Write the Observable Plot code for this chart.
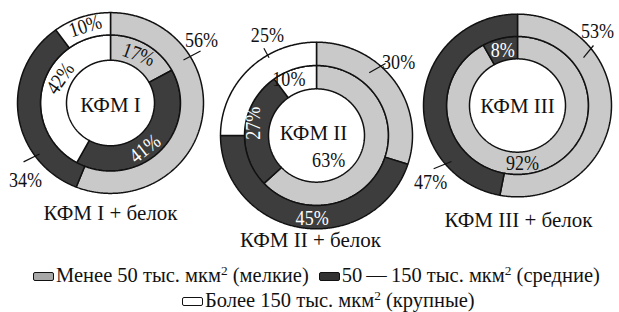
<!DOCTYPE html>
<html><head><meta charset="utf-8">
<script src="https://cdn.jsdelivr.net/npm/d3@7"></script>
<script src="https://cdn.jsdelivr.net/npm/@observablehq/plot@0.6"></script>
<style>
body{margin:0;background:#fff;font-family:"Liberation Serif","Times New Roman","DejaVu Serif",serif;}
#chart{width:619px;height:312px;position:relative;overflow:hidden;background:#fff}
#chart svg{position:absolute;left:0;top:0}
.row{position:absolute;font-family:"Liberation Serif","Times New Roman","DejaVu Serif",serif;font-size:20.5px;line-height:25px;white-space:nowrap;color:#111}
.sw{display:inline-block;width:19px;height:7px;border:1.5px solid #111;border-radius:2px;vertical-align:baseline;margin-bottom:1px;margin-right:2px}
.sup{font-size:0.65em;position:relative;top:-0.5em}
</style></head>
<body><div id="chart"></div>
<script>
// ---- data ----
const groups = ["КФМ I", "КФМ II", "КФМ III"];
const captions = ["КФМ I + белок", "КФМ II + белок", "КФМ III + белок"];
const categories = ["Менее 50 тыс. мкм2 (мелкие)", "50\u2009—\u2009150 тыс. мкм2 (средние)", "Более 150 тыс. мкм2 (крупные)"];
const innerValues = [[17, 41, 42], [63, 27, 10], [92, 8, 0]];   // inner ring: group
const outerValues = [[56, 34, 10], [30, 45, 25], [53, 47, 0]];   // outer ring: group + белок

// ---- layout / style ----
const FONT = '"Liberation Serif","Times New Roman","DejaVu Serif",serif';
const colors = ["#c9c9c9", "#3d3d3d", "#ffffff"];
const legendColors = ["#a8a8a8", "#333333", "#ffffff"];
const W = 619, H = 252;
const centers = [[110, 102.5], [316, 135], [517, 105]];
const radii = [[44, 70, 93], [48, 72, 96], [48, 71, 94]];
const ky = 0.972;
// label placement: [angle°, radius, rotation], optional leader [a1, r1, a2, r2]
const innerLabelPos = [
  [[30, 56, 20], [143, 57, -38], [296, 56, -55]],
  [[154, 27.7, 0], [281, 64, -90], [334, 63, 0]],
  [[175, 58, 0], [345, 57, 0], null]
];
const outerLabelPos = [
  [{t: [55.3, 110.7, 0], l: [59.5, 84.7, 60, 104]}, {t: [227.8, 114.7, 0], l: [234.3, 87.4, 235.9, 105]}, {t: [341.8, 81, -18]}],
  [{t: [48.3, 110, 0], l: [40, 82, 43.8, 99.7]}, {t: [183, 83, 0]}, {t: [334, 112, 0], l: [328.6, 91, 328.9, 101.9]}],
  [{t: [47.2, 109, 0], l: [54, 81.6, 51.7, 96.8]}, {t: [228.5, 116, 0], l: [229.7, 86.6, 233, 105]}, null]
];
const nameOffsets = [[0, 2], [-3, -2], [0, 1]];
const captionPos = [[110, 213], [310, 240], [518, 220]];

const rad = a => a * Math.PI / 180;
const polar = (c, a, r) => [c[0] + r * Math.sin(rad(a)), c[1] - r * Math.cos(rad(a))];

// build ring segments as closed polygons
const pts = [];
function ring(gi, values, r0, r1, tag) {
  const [cx, cy] = centers[gi];
  const total = d3.sum(values);
  let acc = 0;
  values.forEach((v, k) => {
    if (!v) return;
    const a0 = acc / total * 360, a1 = (acc + v) / total * 360;
    acc += v;
    const n = Math.max(2, Math.ceil(a1 - a0) * 2);
    const id = `${tag}-${gi}-${k}`;
    for (let i = 0; i <= n; i++) {
      const a = rad(a0 + (a1 - a0) * i / n);
      pts.push({id, color: colors[k], x: cx + r1 * Math.sin(a), y: cy - r1 * ky * Math.cos(a)});
    }
    for (let i = n; i >= 0; i--) {
      const a = rad(a0 + (a1 - a0) * i / n);
      pts.push({id, color: colors[k], x: cx + r0 * Math.sin(a), y: cy - r0 * ky * Math.cos(a)});
    }
  });
}
groups.forEach((g, gi) => {
  const [rh, rm, ro] = radii[gi];
  ring(gi, innerValues[gi], rh, rm, "in");
  ring(gi, outerValues[gi], rm, ro, "out");
});

// labels
const labels = [], leaders = [];
groups.forEach((g, gi) => {
  const c = centers[gi];
  innerValues[gi].forEach((v, k) => {
    const p = innerLabelPos[gi][k];
    if (!v || !p) return;
    const [x, y] = polar(c, p[0], p[1]);
    labels.push({x, y, text: v + "%", rotate: p[2], fill: k === 1 ? "#ffffff" : "#111111"});
  });
  outerValues[gi].forEach((v, k) => {
    const p = outerLabelPos[gi][k];
    if (!v || !p) return;
    const [x, y] = polar(c, p.t[0], p.t[1]);
    labels.push({x, y, text: v + "%", rotate: p.t[2], fill: (k === 1 && !p.l) ? "#ffffff" : "#111111"});
    if (p.l) {
      const [x1, y1] = polar(c, p.l[0], p.l[1]);
      const [x2, y2] = polar(c, p.l[2], p.l[3]);
      leaders.push({x1, y1, x2, y2});
    }
  });
});
const names = groups.map((g, gi) => ({text: g, x: centers[gi][0] + nameOffsets[gi][0], y: centers[gi][1] + nameOffsets[gi][1]}));
const caps = captions.map((t, gi) => ({text: t, x: captionPos[gi][0], y: captionPos[gi][1]}));

const plot = Plot.plot({
  width: W, height: H, margin: 0,
  x: {domain: [0, W], range: [0, W], axis: null},
  y: {domain: [0, H], range: [0, H], axis: null},
  color: {type: "identity"},
  style: {fontFamily: FONT, background: "transparent", color: "#111"},
  marks: [
    Plot.line(pts, {x: "x", y: "y", z: "id", fill: "color", stroke: "#111", strokeWidth: 1.5, curve: "linear-closed", strokeLinejoin: "miter"}),
    Plot.link(leaders, {x1: "x1", y1: "y1", x2: "x2", y2: "y2", stroke: "#111", strokeWidth: 1.2}),
    Plot.text(labels, {x: "x", y: "y", text: "text", rotate: "rotate", fill: "fill", fontSize: 21, fontFamily: FONT}),
    Plot.text(names, {x: "x", y: "y", text: "text", fill: "#111", fontSize: 21, fontFamily: FONT}),
    Plot.text(caps, {x: "x", y: "y", text: "text", fill: "#111", fontSize: 21, fontFamily: FONT})
  ]
});
// percent labels: slightly condensed glyphs like the original typeface
const textGroups = plot.querySelectorAll('g[aria-label="text"]');
if (textGroups.length) {
  textGroups[0].querySelectorAll("text").forEach(t => {
    const tr = t.getAttribute("transform");
    if (tr) t.setAttribute("transform", tr + " scale(0.86,1)");
  });
}
const chart = document.getElementById("chart");
chart.appendChild(plot);

// legend (HTML, below the SVG)
const rowsLayout = [{top: 263, left: 33, items: [0, 1]}, {top: 288, left: 182, items: [2]}];
rowsLayout.forEach(r => {
  const div = document.createElement("div");
  div.className = "row";
  div.style.top = r.top + "px";
  div.style.left = r.left + "px";
  r.items.forEach((k, j) => {
    const sw = document.createElement("span");
    sw.className = "sw";
    sw.style.background = legendColors[k];
    if (j > 0) sw.style.marginLeft = "10px";
    div.appendChild(sw);
    const [before, after] = categories[k].split("мкм2");
    div.appendChild(document.createTextNode(before + "мкм"));
    const s = document.createElement("span");
    s.className = "sup"; s.textContent = "2";
    div.appendChild(s);
    div.appendChild(document.createTextNode(after));
  });
  chart.appendChild(div);
});
</script></body></html>
